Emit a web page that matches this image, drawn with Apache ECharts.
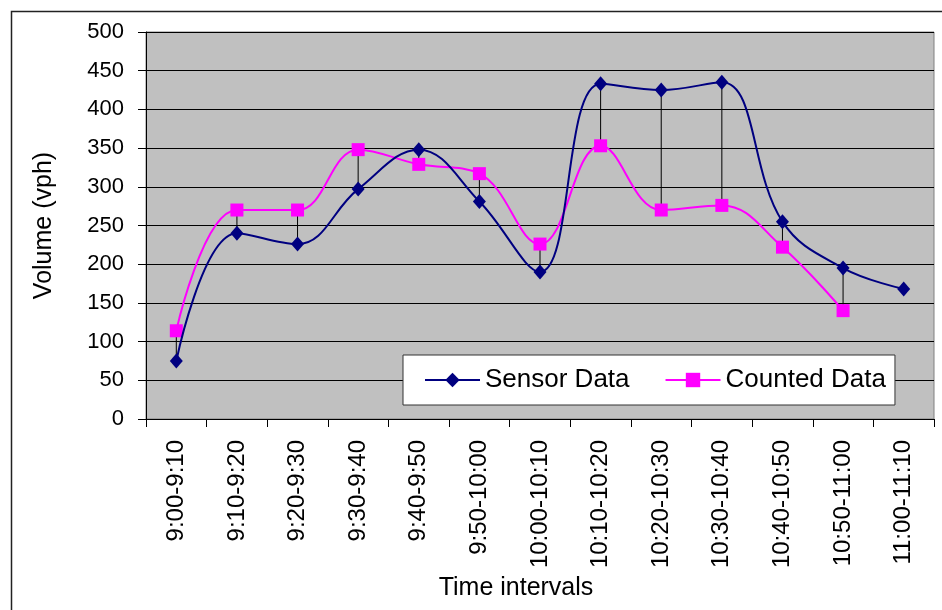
<!DOCTYPE html>
<html>
<head>
<meta charset="utf-8">
<script src="https://cdn.jsdelivr.net/npm/echarts@6/dist/echarts.min.js"></script>
<style>html,body{margin:0;padding:0;background:#fff;}#c{width:942px;height:610px;}</style>
</head>
<body>
<div id="c"></div>
<script>
var categories = ['9:00-9:10','9:10-9:20','9:20-9:30','9:30-9:40','9:40-9:50','9:50-10:00','10:00-10:10','10:10-10:20','10:20-10:30','10:30-10:40','10:40-10:50','10:50-11:00','11:00-11:10'];
var sensorData = [75, 240, 226, 297, 348, 281, 190, 433, 425, 435, 255, 195, 168];
var countedData = [114, 270, 270, 348, 329, 317, 226, 353, 270, 276, 222, 140, null];

var dropData = [];
for (var i = 0; i < categories.length; i++) {
  if (sensorData[i] != null && countedData[i] != null) dropData.push([i, sensorData[i], countedData[i]]);
}

var font = 'Liberation Sans, Arial, sans-serif';
var chart = echarts.init(document.getElementById('c'));
chart.setOption({
  animation: false,
  backgroundColor: '#fff',
  textStyle: { fontFamily: font },
  graphic: [{
    type: 'rect', left: 9, top: 9, z: -10,
    shape: { width: 945, height: 610 },
    style: { fill: 'none', stroke: '#222', lineWidth: 1.5 }
  }],
  grid: {
    left: 146, right: 8, top: 32, bottom: 191,
    show: true, backgroundColor: '#c0c0c0', borderColor: '#808080', borderWidth: 1
  },
  legend: {
    data: ['Sensor Data', 'Counted Data'],
    left: 403, top: 355,
    padding: [12, 9, 12, 21],
    itemWidth: 55, itemHeight: 18, itemGap: 35,
    backgroundColor: '#fff', borderColor: '#333', borderWidth: 1,
    textStyle: { fontSize: 26, color: '#000', fontFamily: font }
  },
  xAxis: {
    type: 'category',
    data: categories,
    boundaryGap: true,
    name: 'Time intervals',
    nameLocation: 'middle',
    nameGap: 151,
    nameTextStyle: { fontSize: 25, color: '#000', fontFamily: font, padding: [0, 48, 0, 0] },
    axisLine: { lineStyle: { color: '#000', width: 1 } },
    axisTick: { show: true, alignWithLabel: false, length: 8, lineStyle: { color: '#000' } },
    axisLabel: { rotate: 90, fontSize: 24, color: '#000', margin: 21, interval: 0, fontFamily: font },
    splitLine: { show: false }
  },
  yAxis: {
    type: 'value',
    min: 0, max: 500, interval: 50,
    name: 'Volume (vph)',
    nameLocation: 'middle',
    nameGap: 89,
    nameTextStyle: { fontSize: 25, color: '#000', fontFamily: font },
    axisLine: { show: true, lineStyle: { color: '#000', width: 1 } },
    axisTick: { show: true, length: 8, lineStyle: { color: '#000' } },
    axisLabel: { fontSize: 22, color: '#000', margin: 22, fontFamily: font },
    splitLine: { show: true, lineStyle: { color: '#000', width: 1 } }
  },
  series: [
    {
      type: 'custom',
      name: 'drop',
      z: 1,
      data: dropData,
      renderItem: function (params, api) {
        var p1 = api.coord([api.value(0), api.value(1)]);
        var p2 = api.coord([api.value(0), api.value(2)]);
        return { type: 'line', shape: { x1: p1[0], y1: p1[1], x2: p2[0], y2: p2[1] },
                 style: { stroke: '#000', lineWidth: 1 } };
      }
    },
    {
      type: 'line', name: 'Counted Data', data: countedData, z: 3,
      smooth: 0.4, symbol: 'rect', symbolSize: 13, showAllSymbol: true,
      lineStyle: { color: '#ff00ff', width: 2 },
      itemStyle: { color: '#ff00ff' }
    },
    {
      type: 'line', name: 'Sensor Data', data: sensorData, z: 4,
      smooth: 0.4, symbol: 'diamond', symbolSize: [13, 15], showAllSymbol: true,
      lineStyle: { color: '#000080', width: 2 },
      itemStyle: { color: '#000080' }
    }
  ]
});
</script>
</body>
</html>
